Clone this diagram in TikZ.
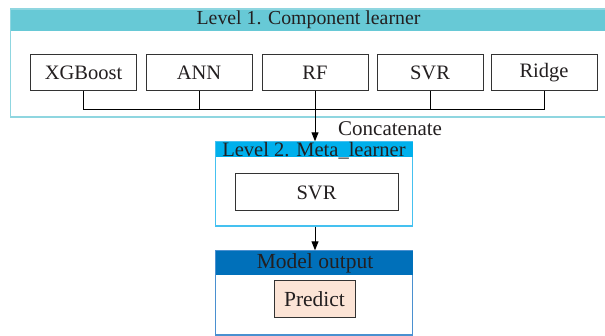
\documentclass[tikz,border=0pt]{standalone}
\usepackage{fontspec}
\setmainfont{Liberation Serif}
\usetikzlibrary{arrows.meta,positioning}

\definecolor{txt}{HTML}{231F20}
\definecolor{boxline}{HTML}{333333}
\definecolor{tealhead}{HTML}{67C9D6}
\definecolor{tealline}{HTML}{8FD6E0}
\definecolor{cyanhead}{HTML}{00B0EC}
\definecolor{cyanline}{HTML}{45C1F0}
\definecolor{bluehead}{HTML}{0070BA}
\definecolor{blueline}{HTML}{4A90D0}
\definecolor{peach}{HTML}{FCE4D6}

\tikzset{
  model/.style={draw=boxline, line width=1pt, fill=white, text=txt,
    minimum width=106pt, minimum height=36pt, inner sep=0pt,
    font=\fontsize{20.5}{20.5}\selectfont},
  headtext/.style={text=txt, inner sep=0pt, font=\fontsize{20.5}{20.5}\selectfont},
  link/.style={draw=black, line width=1pt},
  flow/.style={link, -{Triangle[length=9pt,width=7pt]}},
}

\begin{document}
\begin{tikzpicture}[x=1pt,y=-1pt]
\useasboundingbox (0,0) rectangle (605,336);

% Level 1 frame and header band
\fill[tealhead] (10,9) rectangle (607,31);
\draw[tealline, line width=1.4pt] (607,9) -- (10.7,9) -- (10.7,117) -- (607,117);
\node[headtext, font=\fontsize{19.8}{19.8}\selectfont] (h1) at (308.5,20) {Level 1. Component learner};

% Component learners
\node[model] (xgb)   at (83.5,73) {XGBoost};
\node[model] (ann)   at (199,73)  {ANN};
\node[model] (rf)    at (315,73)  {RF};
\node[model] (svr)   at (430,73)  {SVR};
\node[model] (ridge) at (544,73)  {Ridge};

% Level 2 frame
\node[draw=cyanline, line width=1.4pt, fill=white, minimum width=197pt, minimum height=84pt,
      inner sep=0pt] (l2) at (314,184) {};
\fill[cyanhead] ([xshift=0.7pt,yshift=-0.7pt]l2.north west) rectangle ([xshift=-0.7pt,yshift=-16pt]l2.north east);
\node[headtext] (h2) at (314,150.5) {Level 2. Meta\_learner};
\node[model, minimum width=163pt, minimum height=37pt] (meta) at (316.5,192.5) {SVR};

% Model output frame
\node[draw=blueline, line width=1.4pt, fill=white, minimum width=197pt, minimum height=84pt,
      inner sep=0pt] (out) at (314,293) {};
\fill[bluehead] ([xshift=0.7pt,yshift=-0.7pt]out.north west) rectangle ([xshift=-0.7pt,yshift=-25pt]out.north east);
\node[headtext, font=\fontsize{21.5}{21.5}\selectfont] (h3) at (315,263) {Model output};
\node[model, fill=peach, minimum width=81pt, minimum height=37pt,
      font=\fontsize{21.5}{21.5}\selectfont] (pred) at (314.5,299.5) {Predict};

% Concatenation bus
\coordinate (bus) at (315,110);
\draw[link] (xgb.south) -- (xgb.south |- bus) -- (ridge.south |- bus) -- (ridge.south);
\draw[link] (ann.south) -- (ann.south |- bus);
\draw[link] (svr.south) -- (svr.south |- bus);
\draw[flow] (rf.south) -- (rf.south |- l2.north);
\node[text=txt, inner sep=0pt, font=\fontsize{21}{21}\selectfont, anchor=west] (cat) at (338,129) {Concatenate};

% Meta learner to output
\draw[flow] (l2.south -| rf.south) -- (out.north -| rf.south);
\end{tikzpicture}
\end{document}
